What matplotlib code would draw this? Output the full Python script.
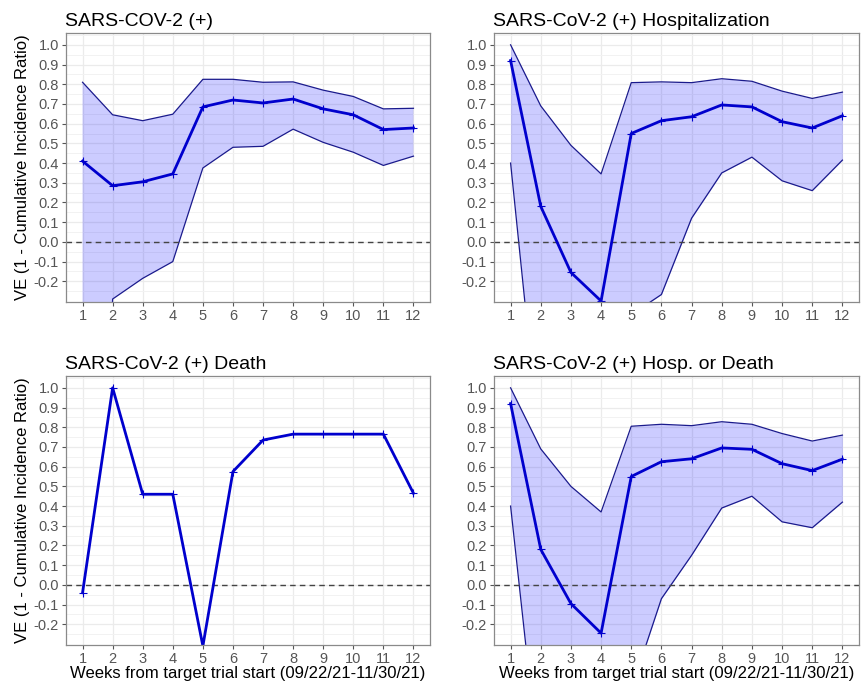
import matplotlib
matplotlib.use("Agg")
import matplotlib.pyplot as plt
import numpy as np

plt.rcParams['font.family'] = ['Liberation Sans', 'DejaVu Sans']

weeks = list(range(1, 13))

# SARS-CoV-2 (+)
pos_est = [0.41, 0.285, 0.305, 0.345, 0.685, 0.72, 0.705, 0.725, 0.675, 0.645, 0.57, 0.578]
pos_hi = [0.81, 0.645, 0.615, 0.648, 0.825, 0.825, 0.81, 0.812, 0.77, 0.738, 0.675, 0.678]
pos_lo = [-4.0, -0.29, -0.185, -0.10, 0.375, 0.48, 0.485, 0.572, 0.505, 0.455, 0.388, 0.435]

# hospitalization
hosp_est = [0.92, 0.18, -0.155, -0.30, 0.55, 0.615, 0.635, 0.695, 0.685, 0.61, 0.578, 0.64]
hosp_hi = [1.0, 0.69, 0.49, 0.345, 0.808, 0.812, 0.808, 0.828, 0.815, 0.765, 0.728, 0.76]
hosp_lo = [0.40, -1.09, -1.5, -1.8, -0.37, -0.267, 0.12, 0.35, 0.43, 0.31, 0.26, 0.415]

# death (no interval shown)
death_est = [-0.04, 1.0, 0.46, 0.46, -0.31, 0.575, 0.735, 0.765, 0.765, 0.765, 0.765, 0.465]

# hosp. or death
hd_est = [0.92, 0.18, -0.095, -0.245, 0.55, 0.625, 0.64, 0.695, 0.688, 0.615, 0.58, 0.638]
hd_hi = [1.0, 0.69, 0.50, 0.37, 0.805, 0.815, 0.808, 0.828, 0.815, 0.768, 0.73, 0.76]
hd_lo = [0.40, -1.0, -1.2, -1.3, -0.53, -0.07, 0.15, 0.39, 0.45, 0.32, 0.29, 0.42]

titles = ["SARS-COV-2 (+)", "SARS-CoV-2 (+) Hospitalization",
          "SARS-CoV-2 (+) Death", "SARS-CoV-2 (+) Hosp. or Death"]
ylab = "VE (1 - Cumulative Incidence Ratio)"
xlab = "Weeks from target trial start (09/22/21-11/30/21)"

W, H = 862, 684
fig = plt.figure(figsize=(W / 100, H / 100), dpi=100)
fig.patch.set_facecolor("white")

# panel boxes in pixels: left, top, right, bottom
boxes = [(66, 33, 430, 302), (494, 33, 859, 302),
         (66, 376, 430, 645), (494, 376, 859, 645)]
panels = [(pos_est, pos_lo, pos_hi), (hosp_est, hosp_lo, hosp_hi),
          (death_est, None, None), (hd_est, hd_lo, hd_hi)]

for i, (box, (est, lo, hi)) in enumerate(zip(boxes, panels)):
    l, t, r, b = box
    ax = fig.add_axes([l / W, (H - b) / H, (r - l) / W, (b - t) / H])
    ax.set_xlim(0.45, 12.55)
    ax.set_ylim(-0.305, 1.06)
    ax.set_xticks(weeks)
    yt = np.round(np.arange(-0.2, 1.01, 0.1), 1)
    ax.set_yticks(yt)
    ax.set_yticklabels([f"{v:.1f}" for v in yt])
    ax.set_yticks(np.arange(-0.25, 1.06, 0.1), minor=True)
    ax.grid(True, which="major", color="#ebebeb", lw=0.9)
    ax.grid(True, which="minor", axis="y", color="#f2f2f2", lw=0.7)
    ax.set_axisbelow(True)
    for s in ax.spines.values():
        s.set_color("#8a8a8a")
        s.set_linewidth(0.9)
    ax.tick_params(which="major", length=3, color="#555555", labelcolor="#555555",
                   labelsize=10.5, pad=2)
    ax.tick_params(which="minor", length=0)

    if lo is not None:
        ax.fill_between(weeks, lo, hi, color="#0000ff", alpha=0.2, lw=0)
        ax.plot(weeks, hi, color="#1a1a8c", lw=0.9)
        ax.plot(weeks, lo, color="#1a1a8c", lw=0.9)
    ax.axhline(0, color="#444444", lw=1.0, ls=(0, (4, 3)))
    ax.plot(weeks, est, color="#0000cd", lw=2.0, marker="+", ms=6, mew=0.8)

    ax.set_title(titles[i], loc="left", fontsize=14, pad=5, x=-0.003)
    if i % 2 == 0:
        ax.set_ylabel(ylab, fontsize=12, labelpad=3)
    if i >= 2:
        ax.set_xlabel(xlab, fontsize=12, labelpad=0)

fig.savefig("out.png", dpi=100)
